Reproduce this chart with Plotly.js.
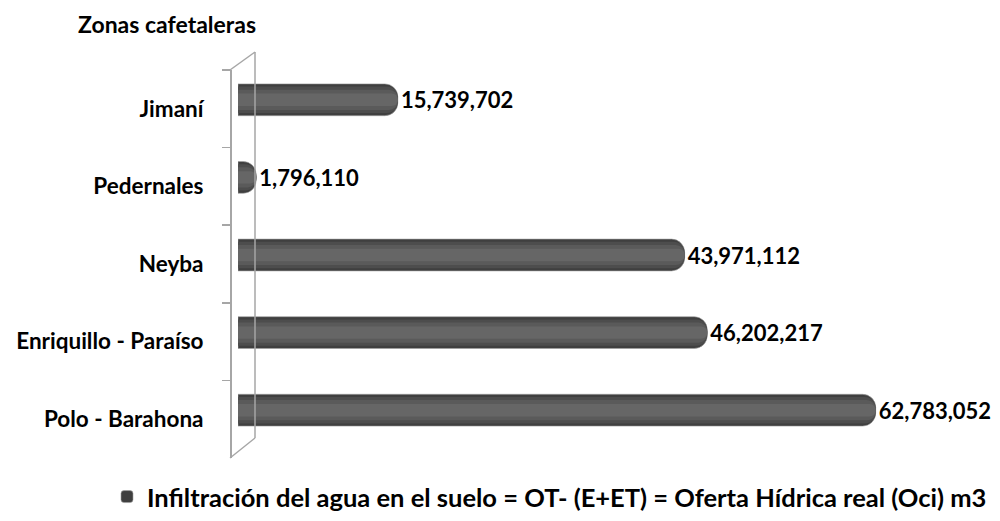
<!DOCTYPE html>
<html>
<head>
<meta charset="utf-8">
<script src="https://cdn.plot.ly/plotly-3.0.1.min.js"></script>
<style>html,body{margin:0;padding:0;background:#fff;}#chart{width:1000px;height:521px;}</style>
</head>
<body>
<div id="chart"></div>
<script>
// Data
const categories = ["Jimaní", "Pedernales", "Neyba", "Enriquillo - Paraíso", "Polo - Barahona"];
const values = [15739702, 1796110, 43971112, 46202217, 62783052];
const valueLabels = ["15,739,702", "1,796,110", "43,971,112", "46,202,217", "62,783,052"];
const seriesName = "Infiltración del agua en el suelo = OT- (E+ET) = Oferta Hídrica real (Oci) m3";
const chartTitle = "Zonas cafetaleras";

const FONT = "Lato, 'Open Sans', sans-serif";
const W = 1000, H = 521;
const L = 230, R = 51, T = 61, B = 63;
const pw = W - L - R, ph = H - T - B;
const px = x => (x - L) / pw;
const py = y => (H - B - y) / ph;

const base = {
  type: "bar", orientation: "h", y: categories, x: values,
  xaxis: "x", yaxis: "y2", hoverinfo: "skip", showlegend: false
};
// layered shading to suggest a cylinder
const shades = [
  {w: 0.34, c: "#4d4d4d", r: 11},
  {w: 0.26, c: "#5a5a5a", r: 9},
  {w: 0.16, c: "#666666", r: 7}
];
const traces = [
  Object.assign({}, base, {
    name: seriesName, width: 0.41,
    marker: {color: "#3f3f3f", cornerradius: 13, line: {color: "#a0a0a0", width: 0.6}},
    text: valueLabels, textposition: "outside", cliponaxis: false, constraintext: "none",
    textfont: {family: FONT, size: 22, color: "#000000", weight: "bold"},
    showlegend: true
  })
].concat(shades.map((s, i) => Object.assign({}, base, {
  name: "shade" + i, width: s.w, marker: {color: s.c, cornerradius: s.r}
}))).concat([
  // invisible trace so the category axis with the wall ticks gets drawn
  {type: "scatter", mode: "markers", y: categories, x: categories.map(() => 0),
   xaxis: "x", yaxis: "y", marker: {opacity: 0}, showlegend: false, hoverinfo: "skip"}
]);

const wall = "#a6a6a6";
const shapes = [
  {type: "line", xref: "paper", yref: "paper", x0: px(255), x1: px(255), y0: py(52), y1: py(438), line: {color: wall, width: 1.5}},
  {type: "line", xref: "paper", yref: "paper", x0: px(230), x1: px(255), y0: py(70), y1: py(52), line: {color: wall, width: 1.5}},
  {type: "line", xref: "paper", yref: "paper", x0: px(230), x1: px(255), y0: py(458), y1: py(438), line: {color: wall, width: 1.5}}
];

const layout = {
  width: W, height: H,
  margin: {l: L, r: R, t: T, b: B, pad: 0},
  paper_bgcolor: "#ffffff", plot_bgcolor: "rgba(0,0,0,0)",
  font: {family: FONT, size: 20, color: "#000000"},
  barmode: "overlay",
  title: {text: chartTitle, xref: "container", yref: "container", x: 0.078, y: 1 - 25/H,
          xanchor: "left", yanchor: "middle", font: {family: FONT, size: 23, color: "#000", weight: "bold"}},
  xaxis: {range: [0, 70000000], domain: [8 / pw, 1], anchor: "y2",
          showgrid: false, zeroline: false, showticklabels: false, showline: false, ticks: ""},
  yaxis: {type: "category", categoryarray: categories, categoryorder: "array",
          range: [4.5, -0.5], domain: [0, 388 / ph], anchor: "free", position: 0,
          showline: true, linecolor: wall, linewidth: 1.5,
          ticks: "outside", tickson: "boundaries", ticklen: 8, tickcolor: wall, tickwidth: 1.5,
          ticklabelstandoff: 22, showgrid: false, zeroline: false,
          tickfont: {family: FONT, size: 22.5, color: "#000", weight: "bold"}},
  yaxis2: {type: "category", categoryarray: categories, categoryorder: "array",
           range: [4.5, -0.5], domain: [9 / ph, 1], anchor: "x",
           showline: false, showticklabels: false, ticks: "", showgrid: false, zeroline: false},
  showlegend: true,
  legend: {orientation: "h", x: 0.107, xref: "container", xanchor: "left", y: 1 - 497/H, yref: "container", yanchor: "middle",
           font: {family: FONT, size: 25.5, color: "#000", weight: "bold"}, itemwidth: 30},
  shapes: shapes
};

Plotly.newPlot("chart", traces, layout, {displayModeBar: false, staticPlot: true});
</script>
</body>
</html>
